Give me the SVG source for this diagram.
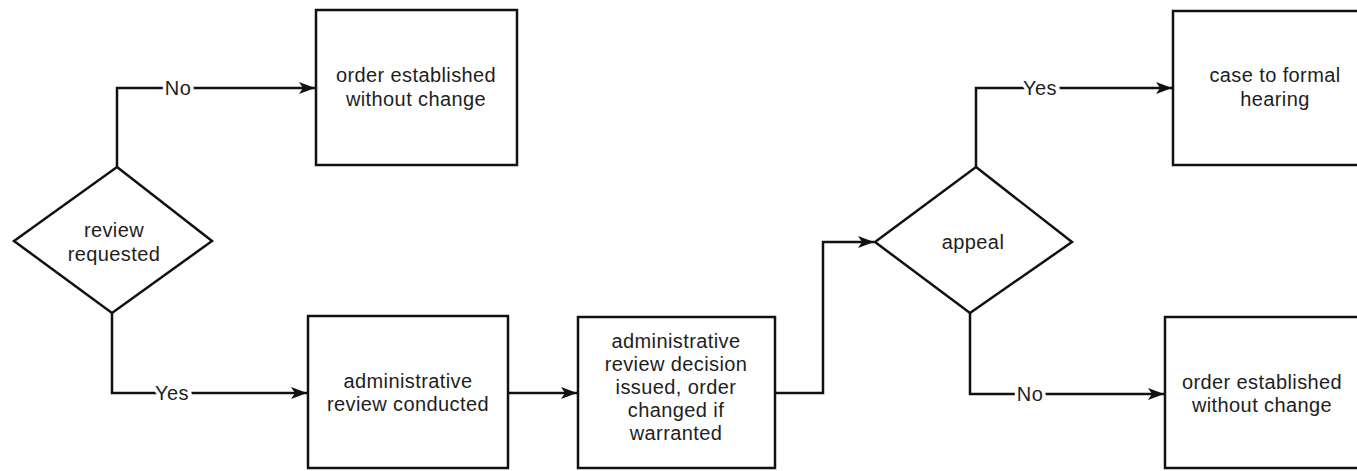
<svg xmlns="http://www.w3.org/2000/svg" width="1357" height="471" viewBox="0 0 1357 471">
<style>
.node{fill:#fff;stroke:#111;stroke-width:2.5}
.t{font-family:"Liberation Sans",Arial,sans-serif;font-size:20px;letter-spacing:0.4px;fill:#1e1e1e;text-anchor:middle}
.conn{fill:none;stroke:#111;stroke-width:2.5}
.lbl{font-family:"Liberation Sans",Arial,sans-serif;font-size:20px;letter-spacing:0.4px;fill:#1e1e1e;text-anchor:middle;stroke:#fff;stroke-width:7;paint-order:stroke}
</style>
<defs>
<marker id="arr" markerUnits="userSpaceOnUse" markerWidth="18" markerHeight="12" refX="16" refY="6" orient="auto">
<path d="M0,0 L16,6 L0,12 L4,6 z" fill="#111"/>
</marker>
</defs>
<rect width="1357" height="471" fill="#fff"/>
<g id="connectors">
<path class="conn" d="M117,167 L117,88 L315,88" marker-end="url(#arr)"/>
<path class="conn" d="M112,313 L112,393 L307,393" marker-end="url(#arr)"/>
<path class="conn" d="M508,393 L577,393" marker-end="url(#arr)"/>
<path class="conn" d="M775,393 L823,393 L823,242 L874,242" marker-end="url(#arr)"/>
<path class="conn" d="M976,167 L976,88 L1172,88" marker-end="url(#arr)"/>
<path class="conn" d="M970,313 L970,394 L1164,394" marker-end="url(#arr)"/>
<text class="lbl" x="178" y="95">No</text>
<text class="lbl" x="172" y="400">Yes</text>
<text class="lbl" x="1040" y="95">Yes</text>
<text class="lbl" x="1030" y="401">No</text>
</g>
<g id="review-requested">
<polygon class="node" points="117,167 212,241 112,313 14,241"/>
<text class="t" x="114" y="237">review</text>
<text class="t" x="114" y="261">requested</text>
</g>
<g id="order-established-1">
<rect class="node" x="316" y="10" width="201" height="155"/>
<text class="t" x="416" y="82">order established</text>
<text class="t" x="416" y="106">without change</text>
</g>
<g id="admin-review-conducted">
<rect class="node" x="308" y="316" width="200" height="152"/>
<text class="t" x="408" y="388">administrative</text>
<text class="t" x="408" y="411">review conducted</text>
</g>
<g id="admin-review-decision">
<rect class="node" x="578" y="317" width="197" height="151"/>
<text class="t" x="676" y="348">administrative</text>
<text class="t" x="676" y="371">review decision</text>
<text class="t" x="676" y="394">issued, order</text>
<text class="t" x="676" y="417">changed if</text>
<text class="t" x="676" y="440">warranted</text>
</g>
<g id="appeal">
<polygon class="node" points="976,167 1072,242 970,313 875,242"/>
<text class="t" x="973" y="249">appeal</text>
</g>
<g id="case-to-formal-hearing">
<rect class="node" x="1173" y="11" width="200" height="154"/>
<text class="t" x="1275" y="82">case to formal</text>
<text class="t" x="1275" y="106">hearing</text>
</g>
<g id="order-established-2">
<rect class="node" x="1165" y="317" width="200" height="151"/>
<text class="t" x="1262" y="389">order established</text>
<text class="t" x="1262" y="412">without change</text>
</g>
</svg>
